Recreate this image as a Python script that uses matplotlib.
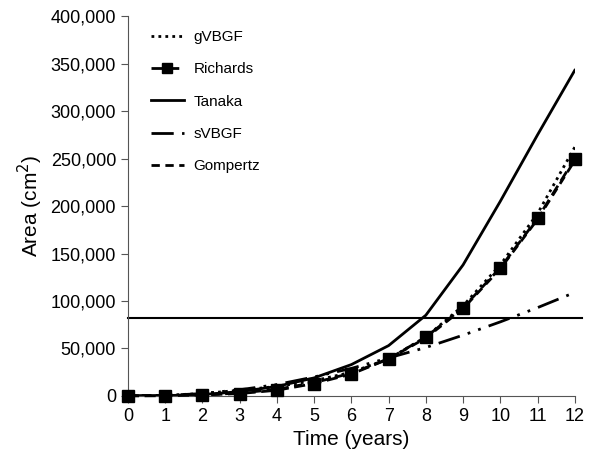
import matplotlib.pyplot as plt
import numpy as np

# data
years = [0, 1, 2, 3, 4, 5, 6, 7, 8, 9, 10, 11, 12]
gvbgf = [0, 700, 2500, 6000, 10000, 16000, 25000, 39000, 62000, 95000, 138000, 192000, 262000]
richards = [0, 200, 1000, 2500, 6000, 13000, 23000, 39000, 62000, 93000, 135000, 187000, 250000]
tanaka = [0, 300, 1500, 4500, 10000, 19000, 33000, 53000, 85000, 138000, 205000, 275000, 343000]
svbgf = [0, 500, 2500, 6500, 12000, 20000, 29000, 40000, 51000, 64000, 78000, 93000, 109000]
gompertz = [0, 300, 1200, 3000, 7000, 14000, 24000, 39000, 61000, 92000, 134000, 186000, 248000]
threshold = 82000

plt.rcParams['font.family'] = ['Liberation Sans', 'DejaVu Sans']

fig = plt.figure(figsize=(5.95, 4.62), dpi=100)
ax = fig.add_axes([0.215, 0.143, 0.751, 0.822])

ax.plot(years, gvbgf, color='k', linestyle=(0, (1, 1.5)), linewidth=2, label='gVBGF')
ax.plot(years, richards, color='k', linestyle=(0, (4, 2)), linewidth=2, marker='s',
        markersize=8, label='Richards', clip_on=False, zorder=5)
ax.plot(years, tanaka, color='k', linestyle='-', linewidth=2, label='Tanaka')
ax.plot(years, svbgf, color='k', linestyle=(0, (8, 3, 1, 3, 1, 3)), linewidth=2, label='sVBGF')
ax.plot(years, gompertz, color='k', linestyle=(0, (3, 2)), linewidth=2, label='Gompertz')
ax.plot([0, 12.2], [threshold, threshold], color='k', linewidth=1.5, clip_on=False)

ax.set_xlim(0, 12)
ax.set_ylim(0, 400000)
ax.set_xticks(years)
ax.set_yticks(np.arange(0, 400001, 50000))
ax.set_yticklabels(['{:,}'.format(v) for v in range(0, 400001, 50000)])
ax.tick_params(labelsize=13, direction='out', length=5, color='#555555')
ax.spines['top'].set_visible(False)
ax.spines['right'].set_visible(False)
ax.spines['left'].set_color('#555555')
ax.spines['bottom'].set_color('#555555')

ax.set_xlabel('Time (years)', fontsize=15)
ax.set_ylabel('Area (cm$^2$)', fontsize=15)

leg = ax.legend(loc='upper left', bbox_to_anchor=(0.02, 1.0), frameon=False, fontsize=11,
                handlelength=2.2, handletextpad=0.6, labelspacing=1.2, markerscale=0.85)

plt.savefig('out.png', dpi=100)
